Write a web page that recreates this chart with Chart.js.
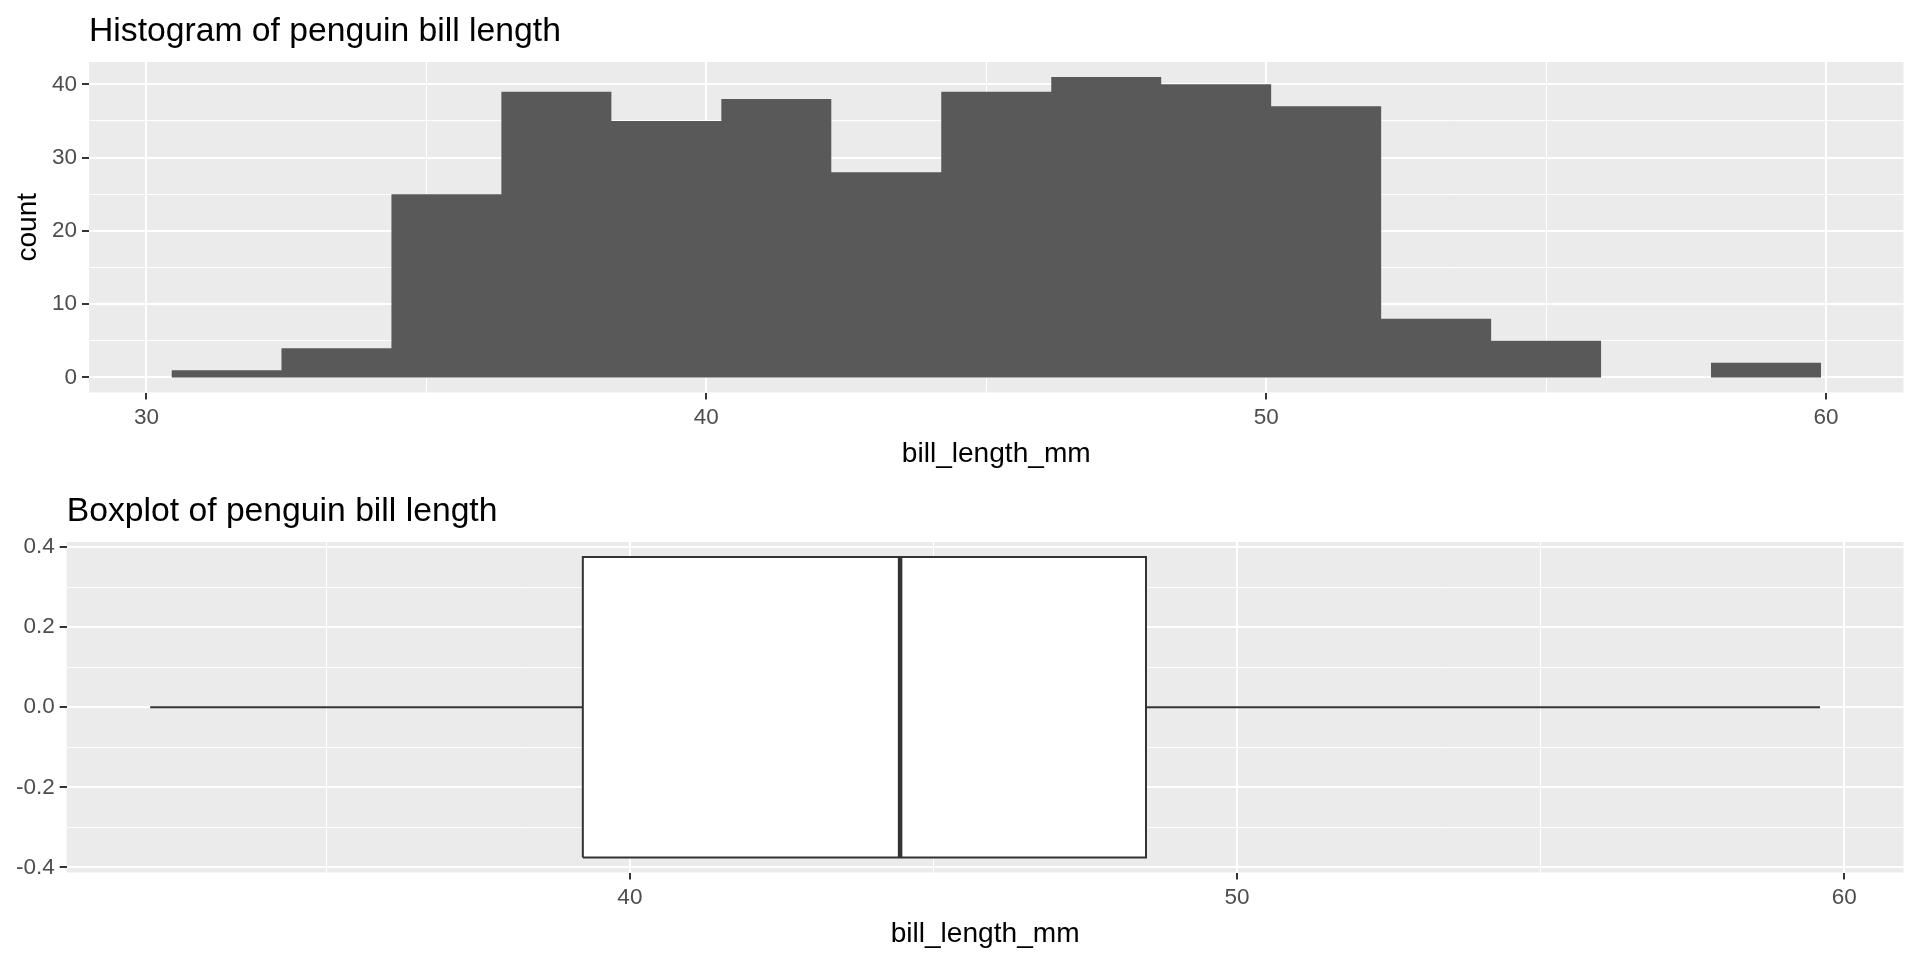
<!DOCTYPE html>
<html>
<head>
<meta charset="utf-8">
<title>Penguin bill length</title>
<script src="https://cdn.jsdelivr.net/npm/chart.js@4.4.1/dist/chart.umd.min.js"></script>
<style>
  body { margin: 0; background: #fff; }
  .panel { position: absolute; left: 0; width: 1920px; height: 480px; }
</style>
</head>
<body>
<div class="panel" style="top:0"><canvas id="histChart"></canvas></div>
<div class="panel" style="top:480px"><canvas id="boxChart"></canvas></div>
<script>
// penguin bill length - histogram (15 bins) + boxplot, ggplot look

// bin edges (mm) and counts per bin
const binEdges = [30.446, 32.411, 34.375, 36.339, 38.304, 40.268, 42.232, 44.196,
  46.161, 48.125, 50.089, 52.054, 54.018, 55.982, 57.946, 59.911];
const binCounts = [1, 4, 25, 39, 35, 38, 28, 39, 41, 40, 37, 8, 5, 0, 2];

// min, q1, median, q3, max
const boxValues = [32.1, 39.225, 44.45, 48.5, 59.6];

// tick values
const histXMajor = [30, 40, 50, 60];
const histXMinor = [35, 45, 55];
const histYMajor = [0, 10, 20, 30, 40];
const histYMinor = [5, 15, 25, 35];
const boxXMajor = [40, 50, 60];
const boxXMinor = [35, 45, 55];
const boxYMajor = [-0.4, -0.2, 0, 0.2, 0.4];
const boxYMinor = [-0.3, -0.1, 0.1, 0.3];

const BOX_HALF = 0.375; // geom_boxplot width 0.75

Chart.defaults.font.family = '"Liberation Sans", Arial, sans-serif';
Chart.defaults.animation = false;

const TICK_FONT = { size: 22.5 };
const TITLE_FONT = { size: 28.1 };

// grey panel background
const panelBg = {
  id: "panelBg",
  beforeDraw(chart) {
    const { ctx, chartArea: a } = chart;
    ctx.save();
    ctx.fillStyle = "#EBEBEB";
    ctx.fillRect(a.left, a.top, a.right - a.left, a.bottom - a.top);
    ctx.restore();
  },
};

// title aligned with panel left edge (like ggplot)
const panelTitle = {
  id: "panelTitle",
  afterDraw(chart, args, opts) {
    const ctx = chart.ctx;
    ctx.save();
    ctx.font = '33.7px "Liberation Sans", Arial, sans-serif';
    ctx.fillStyle = "#000";
    ctx.textBaseline = "alphabetic";
    ctx.textAlign = "left";
    ctx.fillText(opts.text, chart.chartArea.left, opts.baseline);
    ctx.restore();
  },
};

// axis with major + minor gridlines
function gridAxis(major, minor, min, max, fmt, extra) {
  const axis = {
    type: "linear",
    min: min,
    max: max,
    afterBuildTicks: function (scale) {
      scale.ticks = major
        .map((v) => ({ value: v, isMajor: true }))
        .concat(minor.map((v) => ({ value: v, isMajor: false })))
        .sort((a, b) => a.value - b.value);
    },
    ticks: {
      autoSkip: false,
      maxRotation: 0,
      padding: 5,
      color: "#4D4D4D",
      font: TICK_FONT,
      callback: function (value, index, ticks) {
        return ticks[index].isMajor ? fmt(value) : "";
      },
    },
    grid: {
      color: "#FFFFFF",
      lineWidth: (c) => (c.tick && c.tick.isMajor ? 2 : 1),
      drawTicks: true,
      tickLength: 7,
      tickWidth: 2,
      tickColor: (c) => (c.tick && c.tick.isMajor ? "#333333" : "rgba(0,0,0,0)"),
    },
    border: { display: false },
  };
  return Object.assign(axis, extra);
}

function initHistogram() {
  const ctx = document.getElementById("histChart").getContext("2d");
  const points = binEdges.map((e, i) => ({
    x: e,
    y: binCounts[Math.min(i, binCounts.length - 1)],
  }));

  new Chart(ctx, {
    type: "line",
    data: {
      datasets: [
        {
          data: points,
          stepped: "before",
          fill: "origin",
          backgroundColor: "#595959",
          borderColor: "#595959",
          borderWidth: 0,
          pointRadius: 0,
        },
      ],
    },
    options: {
      responsive: true,
      maintainAspectRatio: false,
      layout: { padding: { top: 62, right: 16.5, left: 0, bottom: 0 } },
      plugins: {
        legend: { display: false },
        tooltip: { enabled: false },
        panelTitle: { text: "Histogram of penguin bill length", baseline: 41 },
      },
      scales: {
        x: gridAxis(histXMajor, histXMinor, 28.973, 61.384, (v) => String(v), {
          position: "bottom",
          afterFit: (s) => { s.height = 87.5; },
          title: { display: true, text: "bill_length_mm", color: "#000", font: TITLE_FONT, padding: { top: 0, bottom: 9 } },
        }),
        y: gridAxis(histYMajor, histYMinor, -2.05, 43.05, (v) => String(v), {
          position: "left",
          afterFit: (s) => { s.width = 89; },
          title: { display: true, text: "count", color: "#000", font: TITLE_FONT, padding: { top: 11, bottom: 0 } },
        }),
      },
    },
    plugins: [panelBg, panelTitle],
  });
}

function initBoxplot() {
  const ctx = document.getElementById("boxChart").getContext("2d");
  const [lo, q1, med, q3, hi] = boxValues;
  const dark = "#333333";
  const lineStyle = { pointRadius: 0, fill: false, tension: 0 };

  new Chart(ctx, {
    type: "line",
    data: {
      datasets: [
        Object.assign({ data: [{ x: med, y: -BOX_HALF }, { x: med, y: BOX_HALF }], borderColor: dark, borderWidth: 4.5 }, lineStyle),
        Object.assign({
          data: [
            { x: q1, y: -BOX_HALF }, { x: q3, y: -BOX_HALF }, { x: q3, y: BOX_HALF },
            { x: q1, y: BOX_HALF }, { x: q1, y: -BOX_HALF },
          ],
          borderColor: dark, borderWidth: 2,
        }, lineStyle),
        Object.assign({ data: [{ x: lo, y: 0 }, { x: q1, y: 0 }], borderColor: dark, borderWidth: 2 }, lineStyle),
        Object.assign({ data: [{ x: q3, y: 0 }, { x: hi, y: 0 }], borderColor: dark, borderWidth: 2 }, lineStyle),
        {
          // white box body
          data: [{ x: q1, y: BOX_HALF }, { x: q3, y: BOX_HALF }],
          fill: { value: -BOX_HALF },
          backgroundColor: "#FFFFFF",
          borderColor: "#FFFFFF",
          borderWidth: 0,
          pointRadius: 0,
        },
      ],
    },
    options: {
      responsive: true,
      maintainAspectRatio: false,
      layout: { padding: { top: 62, right: 16.5, left: 0, bottom: 0 } },
      plugins: {
        legend: { display: false },
        tooltip: { enabled: false },
        panelTitle: { text: "Boxplot of penguin bill length", baseline: 41 },
      },
      scales: {
        x: gridAxis(boxXMajor, boxXMinor, 30.725, 60.975, (v) => String(v), {
          position: "bottom",
          afterFit: (s) => { s.height = 87.5; },
          title: { display: true, text: "bill_length_mm", color: "#000", font: TITLE_FONT, padding: { top: 0, bottom: 9 } },
        }),
        y: gridAxis(boxYMajor, boxYMinor, -0.4125, 0.4125, (v) => v.toFixed(1), {
          position: "left",
          afterFit: (s) => { s.width = 66.7; },
        }),
      },
    },
    plugins: [panelBg, panelTitle],
  });
}

initHistogram();
initBoxplot();
</script>
</body>
</html>
